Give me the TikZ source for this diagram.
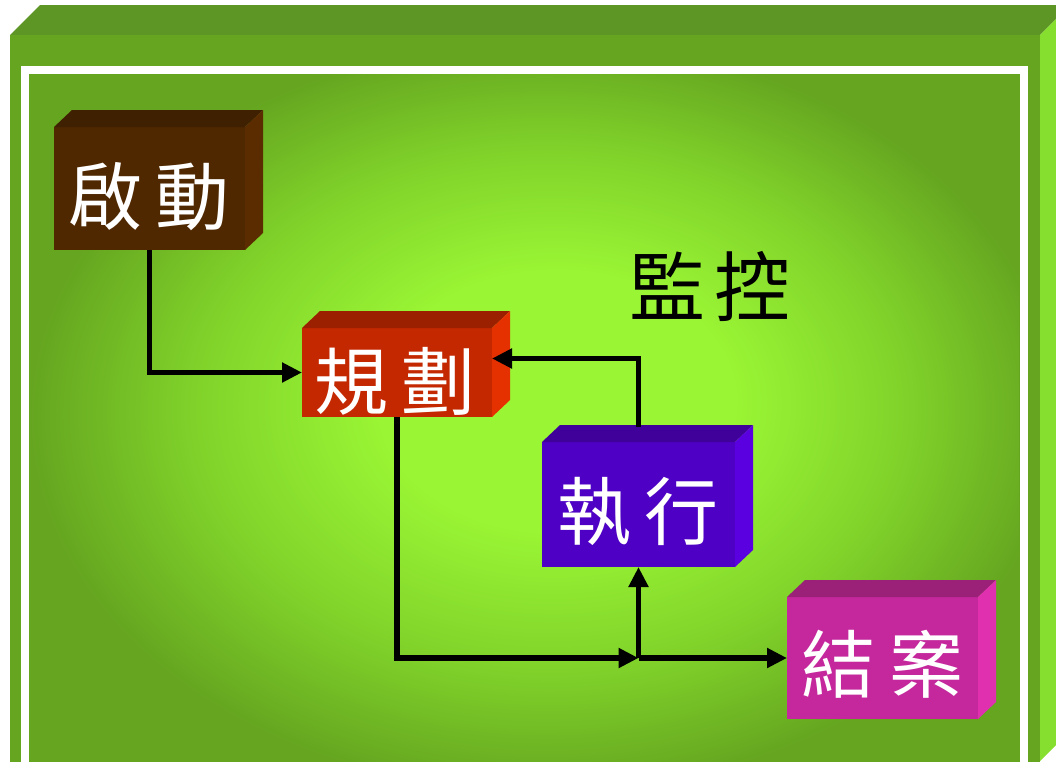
\documentclass[tikz,border=0pt]{standalone}
\usepackage{fontspec}
\newfontfamily\cjk{Noto Sans CJK TC}
\usetikzlibrary{arrows.meta,calc}
\definecolor{gbright}{RGB}{154,245,52}
\definecolor{gmid}{RGB}{128,210,42}
\definecolor{gdark}{RGB}{101,165,32}
\definecolor{gtop}{RGB}{93,150,37}
\definecolor{gside}{RGB}{134,222,46}
\definecolor{qfront}{RGB}{79,40,0}
\definecolor{qtop}{RGB}{63,32,0}
\definecolor{qside}{RGB}{90,44,0}
\definecolor{hfront}{RGB}{196,40,0}
\definecolor{htop}{RGB}{154,32,0}
\definecolor{hside}{RGB}{229,48,0}
\definecolor{zfront}{RGB}{78,0,196}
\definecolor{ztop}{RGB}{64,0,154}
\definecolor{zside}{RGB}{90,0,224}
\definecolor{jfront}{RGB}{196,40,156}
\definecolor{jtop}{RGB}{154,32,120}
\definecolor{jside}{RGB}{224,48,176}
\pgfdeclareradialshading{glow}{\pgfpoint{2bp}{3bp}}{color(0bp)=(gbright); color(9bp)=(gbright); color(18bp)=(gmid); color(26bp)=(gdark); color(50bp)=(gdark)}
\tikzset{
  face/.style={draw=none, inner sep=0pt, outer sep=0pt},
  lbl/.style={font=\cjk\fontsize{74}{74}\selectfont, text=white, inner sep=0pt},
  conn/.style={line width=5.2pt, draw=black, -{Triangle[length=20pt,width=19pt]}},
}
\newcommand{\cubefaces}[3]{%
  \fill[#2] (#1.north west) -- ++(18,-17) -- ($(#1.north east)+(18,-17)$) -- (#1.north east) -- cycle;
  \fill[#3] (#1.north east) -- ++(18,-17) -- ($(#1.south east)+(18,-17)$) -- (#1.south east) -- cycle;
}
\begin{document}
\begin{tikzpicture}[x=1pt,y=-1pt]
\useasboundingbox (0,0) rectangle (1056,761);
\begin{scope}
\clip (0,0) rectangle (1056,761);
\fill[white] (0,0) rectangle (1056,761);
% outer 3D frame
\fill[gtop] (10,35) -- (40,5) -- (1070,5) -- (1040,35) -- cycle;
\fill[gside] (1040,35) -- (1070,5) -- (1070,731) -- (1040,761) -- cycle;
\fill[gdark] (10,35) rectangle (1040,800);
% inner glowing panel
\shade[shading=glow] (29,74) rectangle (1019,800);
% white frame
\draw[white, line width=8pt] (24.5,70) rectangle (1023.5,820);
\end{scope}

% boxes
\node[face, fill=qfront, minimum width=191pt, minimum height=123pt] (qidong) at (149.5,188.5) {};
\cubefaces{qidong}{qtop}{qside}
\node[face, fill=hfront, minimum width=190pt, minimum height=89pt] (guihua) at (397,372.5) {};
\cubefaces{guihua}{htop}{hside}
\node[face, fill=zfront, minimum width=193pt, minimum height=125pt] (zhixing) at (638.5,504.5) {};
\cubefaces{zhixing}{ztop}{zside}
\node[face, fill=jfront, minimum width=191pt, minimum height=122pt] (jiean) at (882.5,658) {};
\cubefaces{jiean}{jtop}{jside}

% labels
\node[lbl] (qidongT) at (149,197) {啟\hspace{14pt}動};
\node[lbl] (guihuaT) at (395,381) {規\hspace{14pt}劃};
\node[lbl] (zhixingT) at (638,512) {執\hspace{14pt}行};
\node[lbl] (jieanT) at (882,664) {結\hspace{14pt}案};
\node[lbl, text=black, font=\cjk\fontsize{76}{76}\selectfont] (jiankong) at (710,286) {監\hspace{10pt}控};

% connectors
\coordinate (ztop) at ([yshift=15pt]zhixing.north);
\coordinate (gin) at ([yshift=14pt]guihua.east);
\coordinate (junc) at (zhixing.south |- jiean.west);
\draw[conn] (qidong.south) |- (guihua.west);
\draw[conn] (ztop) |- (gin);
\draw[conn] (guihua.south) |- (junc);
\draw[conn] (junc) -- (jiean.west);
\draw[conn] (junc) -- (zhixing.south);
\end{tikzpicture}
\end{document}
